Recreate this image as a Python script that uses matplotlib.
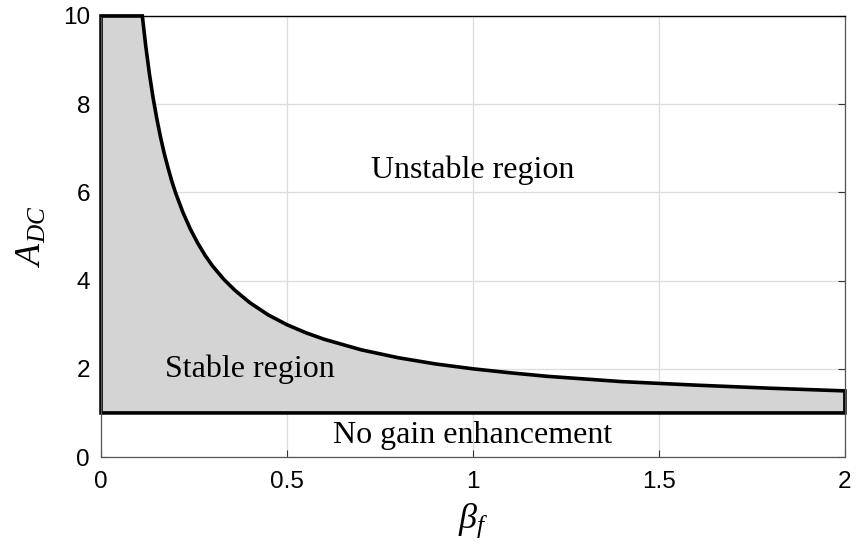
import matplotlib
matplotlib.use("Agg")
import matplotlib.pyplot as plt
from matplotlib.patches import Polygon

# Stability boundary A_DC(beta_f), sampled along the curve
beta = [0.111, 0.12, 0.13, 0.14, 0.15, 0.16, 0.17, 0.18, 0.19, 0.20, 0.22, 0.24,
        0.26, 0.28, 0.30, 0.33, 0.36, 0.40, 0.45, 0.50, 0.55, 0.60, 0.70, 0.80,
        0.90, 1.00, 1.10, 1.20, 1.40, 1.60, 1.80, 2.00]
a_dc = [10.0, 9.33, 8.69, 8.14, 7.67, 7.25, 6.88, 6.56, 6.26, 6.00, 5.55, 5.17,
        4.85, 4.57, 4.33, 4.03, 3.78, 3.50, 3.22, 3.00, 2.82, 2.67, 2.43, 2.25,
        2.11, 2.00, 1.91, 1.83, 1.71, 1.63, 1.56, 1.50]
a_min = 1.0    # no gain enhancement level
a_max = 10.0   # top of the plotted range

x_ticks = [0, 0.5, 1, 1.5, 2]
x_tick_labels = ["0", "0.5", "1", "1.5", "2"]
y_ticks = [0, 2, 4, 6, 8, 10]
y_tick_labels = ["0", "2", "4", "6", "8", "10"]

plt.rcParams["mathtext.fontset"] = "custom"
plt.rcParams["mathtext.rm"] = "Liberation Serif"
plt.rcParams["mathtext.it"] = "Liberation Serif:italic"
plt.rcParams["font.family"] = ["Liberation Sans", "DejaVu Sans"]

fig = plt.figure(figsize=(8.57, 5.50), dpi=100)
ax = fig.add_axes([0.1179, 0.169, 0.868, 0.802])

ax.set_xlim(0, 2)
ax.set_ylim(0, 10)
ax.grid(True, color="#dcdcdc", linewidth=0.9)
ax.set_axisbelow(True)

# Stable region: from the unity-gain line up to the boundary curve
verts = [(0, a_min), (0, a_max)] + list(zip(beta, a_dc)) + [(beta[-1], a_min)]
region = Polygon(verts, closed=True, facecolor="#d4d4d4", edgecolor="black",
                 linewidth=2.6, zorder=2, clip_on=False, joinstyle="miter")
ax.add_patch(region)

ax.set_xticks(x_ticks)
ax.set_xticklabels(x_tick_labels)
ax.set_yticks(y_ticks)
ax.set_yticklabels(y_tick_labels)
ax.tick_params(direction="in", length=5, width=0.8, color="#333333",
               labelsize=17.5, top=False, right=True)
ax.tick_params(axis="x", pad=10)
ax.tick_params(axis="y", pad=8)

for side in ["left", "bottom", "right"]:
    ax.spines[side].set_color("#555555")
    ax.spines[side].set_linewidth(0.9)
ax.spines["top"].set_color("black")
ax.spines["top"].set_linewidth(1.0)

ax.set_xlabel(r"$\beta_f$", fontsize=26, labelpad=6)
ax.set_ylabel(r"$A_{DC}$", fontsize=26, labelpad=10)

serif = ["Liberation Serif", "DejaVu Serif"]
ax.text(1.0, 6.5, "Unstable region", family=serif, fontsize=23,
        ha="center", va="center", zorder=3)
ax.text(0.40, 2.0, "Stable region", family=serif, fontsize=23,
        ha="center", va="center", zorder=3)
ax.text(1.0, 0.48, "No gain enhancement", family=serif, fontsize=23,
        ha="center", va="center", zorder=3)

fig.savefig("out.png", dpi=100)
